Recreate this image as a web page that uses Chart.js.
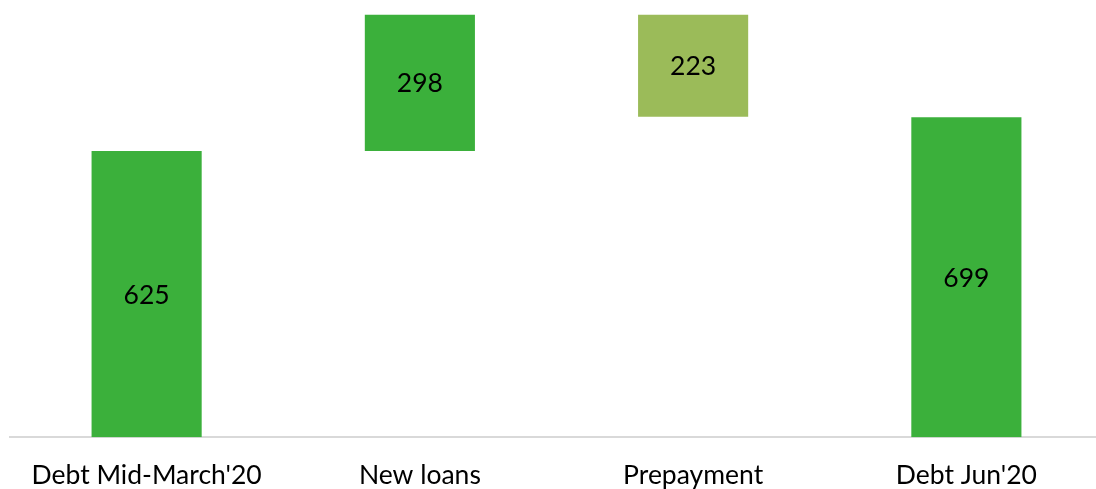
<!DOCTYPE html>
<html>
<head>
<meta charset="utf-8">
<script src="https://cdn.jsdelivr.net/npm/chart.js@4/dist/chart.umd.min.js"></script>
<style>
  html, body { margin: 0; padding: 0; background: #fff; overflow: hidden; }
  #wrap { width: 1103px; height: 513px; }
</style>
</head>
<body>
<div id="wrap"><canvas id="debtChart"></canvas></div>
<script>
// data
const categories = ["Debt Mid-March'20", 'New loans', 'Prepayment', "Debt Jun'20"];
const steps = [625, 298, -223, 699];          // change per step (first and last are totals)
const isTotal = [true, false, false, true];
const barColors = ['#3bb03b', '#3bb03b', '#9bbb59', '#3bb03b'];

// build floating ranges for the waterfall
const ranges = [];
let running = 0;
steps.forEach((v, i) => {
    if (isTotal[i]) {
        ranges.push([0, v]);
        running = v;
    } else {
        ranges.push([running, running + v]);
        running += v;
    }
});

// labels in the middle of each bar
const barLabels = {
    id: 'barLabels',
    afterDatasetsDraw(chart) {
        const ctx = chart.ctx;
        ctx.save();
        ctx.font = '26.5px Lato';
        ctx.fillStyle = '#000';
        ctx.textAlign = 'center';
        ctx.textBaseline = 'middle';
        chart.getDatasetMeta(0).data.forEach((bar, i) => {
            const mid = (bar.y + bar.base) / 2;
            ctx.fillText(Math.abs(steps[i]), bar.x, mid + 1);
        });
        ctx.restore();
    }
};

new Chart(document.getElementById('debtChart').getContext('2d'), {
    type: 'bar',
    data: {
        labels: categories,
        datasets: [{
            data: ranges,
            backgroundColor: barColors,
            borderWidth: 0,
            barPercentage: 0.403,
            categoryPercentage: 1
        }]
    },
    options: {
        responsive: true,
        maintainAspectRatio: false,
        animation: false,
        layout: { padding: { left: 10, right: 0, top: 0, bottom: 0 } },
        scales: {
            x: {
                grid: { display: false, drawTicks: false },
                border: { color: '#d9d9d9', width: 2 },
                ticks: { color: '#000', font: { family: 'Lato', size: 26.5 }, padding: 22, maxRotation: 0 }
            },
            y: {
                display: false,
                min: 0,
                max: 955
            }
        },
        plugins: {
            legend: { display: false },
            tooltip: { enabled: false }
        }
    },
    plugins: [barLabels]
});
</script>
</body>
</html>
